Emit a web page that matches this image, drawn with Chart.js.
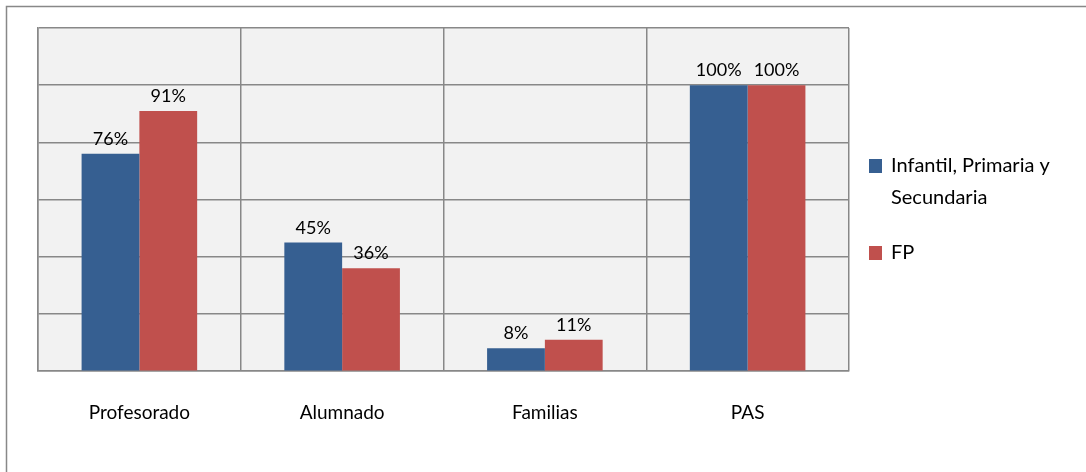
<!DOCTYPE html>
<html><head><meta charset="utf-8">
<script src="https://cdn.jsdelivr.net/npm/chart.js@4.4.1/dist/chart.umd.min.js"></script>
<style>html,body{margin:0;padding:0;background:#fff}#wrap{width:1086px;height:472px}</style>
</head><body><div id="wrap"><canvas id="c" width="1086" height="472"></canvas></div>
<script>
const categories = ["Profesorado", "Alumnado", "Familias", "PAS"];
const seriesNames = [["Infantil, Primaria y", "Secundaria"], ["FP"]];
const infantilValues = [76, 45, 8, 100];
const fpValues = [91, 36, 11, 100];
const seriesColors = ["#365f91", "#c0504d"];
const FONT = "Lato, 'Open Sans', sans-serif";

const bgPlugin = {
  id: 'bg',
  beforeDraw(chart) {
    const ctx = chart.ctx, a = chart.chartArea;
    ctx.save();
    ctx.fillStyle = '#fff';
    ctx.fillRect(0, 0, chart.width, chart.height);
    ctx.strokeStyle = '#888';
    ctx.lineWidth = 1.5;
    ctx.strokeRect(6.5, 6.5, chart.width + 20, chart.height + 20);
    ctx.fillStyle = '#f2f2f2';
    ctx.fillRect(a.left, a.top, a.right - a.left, a.bottom - a.top);
    ctx.restore();
  }
};
const labelPlugin = {
  id: 'vals',
  afterDatasetsDraw(chart) {
    const ctx = chart.ctx;
    ctx.save();
    ctx.font = "18px " + FONT;
    ctx.fillStyle = '#000';
    ctx.textAlign = 'center';
    ctx.textBaseline = 'alphabetic';
    chart.data.datasets.forEach((ds, i) => {
      chart.getDatasetMeta(i).data.forEach((el, j) => {
        ctx.fillText(ds.data[j] + '%', el.x, el.y - 9);
      });
    });
    ctx.restore();
  }
};
const legendPlugin = {
  id: 'leg',
  afterDraw(chart) {
    const ctx = chart.ctx;
    ctx.save();
    ctx.font = "20px " + FONT;
    ctx.textBaseline = 'middle';
    const x = chart.chartArea.right + 20;
    let y = 166;
    seriesNames.forEach((lines, i) => {
      ctx.fillStyle = seriesColors[i];
      ctx.fillRect(x, y - 7, 13, 14);
      ctx.fillStyle = '#000';
      lines.forEach((t, k) => ctx.fillText(t, x + 22, y + k * 32));
      y += lines.length * 32 + 23;
    });
    ctx.restore();
  }
};

new Chart(document.getElementById('c'), {
  type: 'bar',
  data: {
    labels: categories,
    datasets: [
      { label: seriesNames[0].join(' '), data: infantilValues, backgroundColor: seriesColors[0], categoryPercentage: 0.57, barPercentage: 1 },
      { label: seriesNames[1].join(' '), data: fpValues, backgroundColor: seriesColors[1], categoryPercentage: 0.57, barPercentage: 1 }
    ]
  },
  options: {
    responsive: false,
    animation: false,
    layout: { padding: { left: 38, top: 28, right: 237, bottom: 18 } },
    plugins: { legend: { display: false }, tooltip: { enabled: false } },
    scales: {
      x: {
        offset: true,
        grid: { display: true, offset: true, color: '#888', lineWidth: 1.5, drawTicks: false },
        border: { display: true, color: '#888', width: 1.5 },
        ticks: { padding: 30, color: '#000', font: { family: FONT, size: 19 } }
      },
      y: {
        min: 0, max: 120,
        ticks: { display: false, stepSize: 20 },
        grid: { color: '#888', lineWidth: 1.5, drawTicks: false },
        border: { display: true, color: '#888', width: 1.5 }
      }
    }
  },
  plugins: [bgPlugin, labelPlugin, legendPlugin]
});
</script></body></html>
